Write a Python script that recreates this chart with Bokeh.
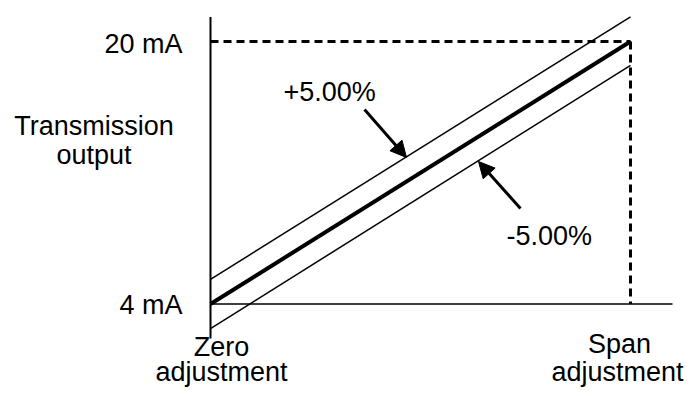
from bokeh.plotting import figure
from bokeh.models import Range1d, Arrow, NormalHead
from bokeh.core.properties import value
from bokeh.embed import file_html
from bokeh.resources import INLINE

# ---- data ----
adjust_x = [0, 100]            # zero adjustment -> span adjustment (% of span)
nominal_mA = [4, 20]           # nominal transmission output
plus_mA = [5.5, 21.5]          # +5.00% band (schematic)
minus_mA = [2.5, 18.55]        # -5.00% band (schematic)
tick_labels = ["4 mA", "20 mA"]
tick_values = [4, 20]

FONT = value("Liberation Sans")
FS = "27px"

W, H = 685, 388

# reference-pixel mapping helpers (layout only)
PX_X0, PX_X100 = 210, 630
PX_Y4, PX_Y20 = 303.5, 41
sx = (PX_X100 - PX_X0) / 100.0
sy = (PX_Y4 - PX_Y20) / 16.0
def dx(px):
    return (px - PX_X0) / sx
def dy(py):
    return 4 + (PX_Y4 - py) / sy

p = figure(width=W, height=H,
           x_range=Range1d(dx(0), dx(W)), y_range=Range1d(dy(H), dy(0)),
           output_backend="svg", toolbar_location=None, min_border=0,
           x_axis_location=None, y_axis_location=None,
           outline_line_color=None, background_fill_color="white",
           border_fill_color="white")
p.grid.visible = False

# axes of the diagram
p.line([0, 0], [dy(16.5), dy(338)], line_color="black", line_width=2)
p.line([0, dx(672)], [4, 4], line_color="black", line_width=1.5)

# dashed guides
p.line([0, adjust_x[1]], [nominal_mA[1], nominal_mA[1]], line_color="black",
       line_width=3, line_dash="8 5")
p.line([adjust_x[1], adjust_x[1]], [nominal_mA[1], nominal_mA[0]], line_color="black",
       line_width=3, line_dash="8 5")

# characteristic lines
p.line(adjust_x, plus_mA, line_color="black", line_width=1.5)
p.line(adjust_x, minus_mA, line_color="black", line_width=1.5)
p.line(adjust_x, nominal_mA, line_color="black", line_width=4)

common = dict(text_font=FONT, text_font_size=FS, text_baseline="middle",
              text_color="black")

# tick labels
p.text(x=[dx(182)] * 2, y=[dy(304.5), dy(43.5)], text=tick_labels,
       text_align="right", **common)

# axis titles
p.text(x=[dx(93.5), dx(93.5)], y=[dy(125.5), dy(154.5)], text=["Transmission", "output"],
       text_align="center", **common)
p.text(x=[dx(221), dx(221)], y=[dy(346), dy(371.5)], text=["Zero", "adjustment"],
       text_align="center", **common)
p.text(x=[dx(619), dx(617)], y=[dy(343), dy(371.5)], text=["Span", "adjustment"],
       text_align="center", **common)

# band labels
p.text(x=[dx(283), dx(506)], y=[dy(91.5), dy(235.5)], text=["+5.00%", "-5.00%"],
       text_align="left", **common)

# arrows
for (x0, y0, x1, y1) in [(364, 109, 406, 157), (520, 208, 478, 161)]:
    p.add_layout(Arrow(end=NormalHead(size=16, fill_color="black", line_color="black"),
                       x_start=dx(x0), y_start=dy(y0), x_end=dx(x1), y_end=dy(y1),
                       line_color="black", line_width=3))

open("out.html", "w").write(file_html(p, INLINE))
